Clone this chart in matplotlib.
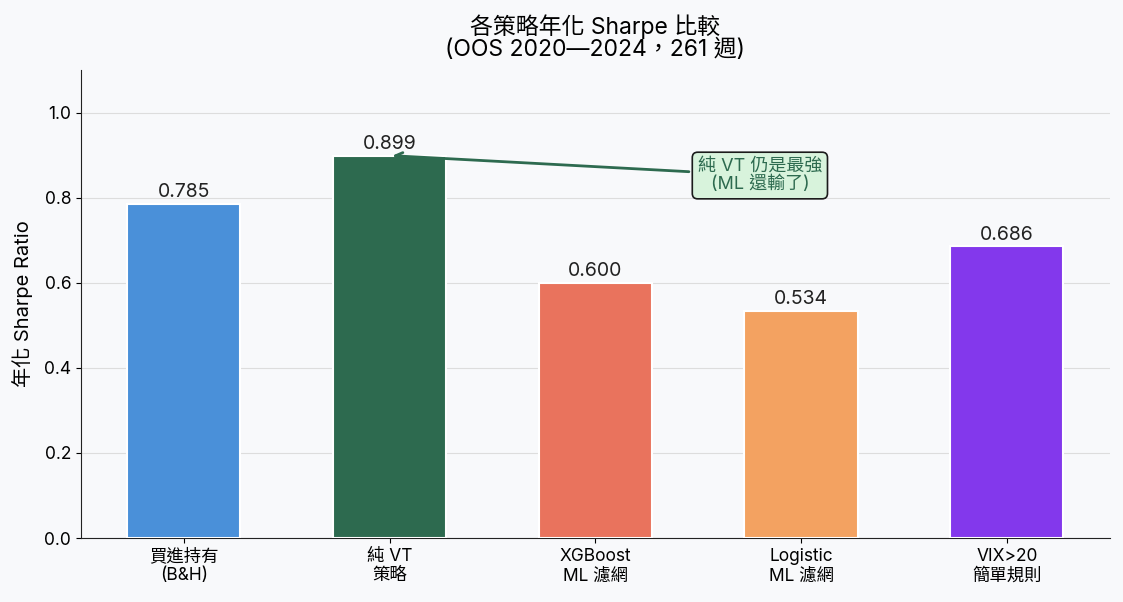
import matplotlib
matplotlib.use("Agg")
import matplotlib.pyplot as plt

plt.rcParams['font.family'] = ['Inter', 'Noto Sans CJK TC', 'DejaVu Sans']

categories = ["買進持有\n(B&H)", "純 VT\n策略", "XGBoost\nML 濾網", "Logistic\nML 濾網", "VIX>20\n簡單規則"]
sharpe = [0.785, 0.899, 0.600, 0.534, 0.686]
colors = ["#4a90d9", "#2d6a4f", "#e9735d", "#f3a261", "#8338ec"]

bg = "#f8f9fb"
fig = plt.figure(figsize=(11.23, 6.02), dpi=100, facecolor=bg)
ax = fig.add_axes([0.0721, 0.1063, 0.916, 0.7774], facecolor=bg)

x = list(range(len(categories)))
bars = ax.bar(x, sharpe, width=0.55, color=colors, edgecolor="white", linewidth=1.5, zorder=3)
for xi, v in zip(x, sharpe):
    ax.text(xi, v + 0.006, f"{v:.3f}", ha="center", va="bottom", fontsize=14, color="#222222", zorder=4)

ax.set_xlim(-0.5, 4.5)
ax.set_ylim(0, 1.1)
ax.set_yticks([0.0, 0.2, 0.4, 0.6, 0.8, 1.0])
ax.set_xticks(x)
ax.set_xticklabels(categories, fontsize=12.5, linespacing=1.15)
ax.tick_params(axis='y', labelsize=12.5)
ax.tick_params(axis='x', pad=4)
ax.yaxis.grid(True, color="#dddddd", linewidth=0.8, zorder=0)
ax.set_axisbelow(True)
for s in ["top", "right"]:
    ax.spines[s].set_visible(False)
ax.spines["left"].set_color("#222222")
ax.spines["bottom"].set_color("#222222")

ax.set_ylabel("年化 Sharpe Ratio", fontsize=14.5, labelpad=8)
ax.set_title("各策略年化 Sharpe 比較\n(OOS 2020—2024，261 週)", fontsize=16.5, pad=10, linespacing=1.0)

ax.annotate("純 VT 仍是最強\n(ML 還輸了)", xy=(1, 0.899), xytext=(2.8, 0.852),
            ha="center", va="center", fontsize=13, color="#2d6a4f", linespacing=1.1,
            bbox=dict(boxstyle="round,pad=0.3", facecolor="#d8f3dc", edgecolor="#1b1b1b", linewidth=1.2),
            arrowprops=dict(arrowstyle="->", color="#2d6a4f", lw=2))

fig.savefig("out.png", dpi=100, facecolor=bg)
